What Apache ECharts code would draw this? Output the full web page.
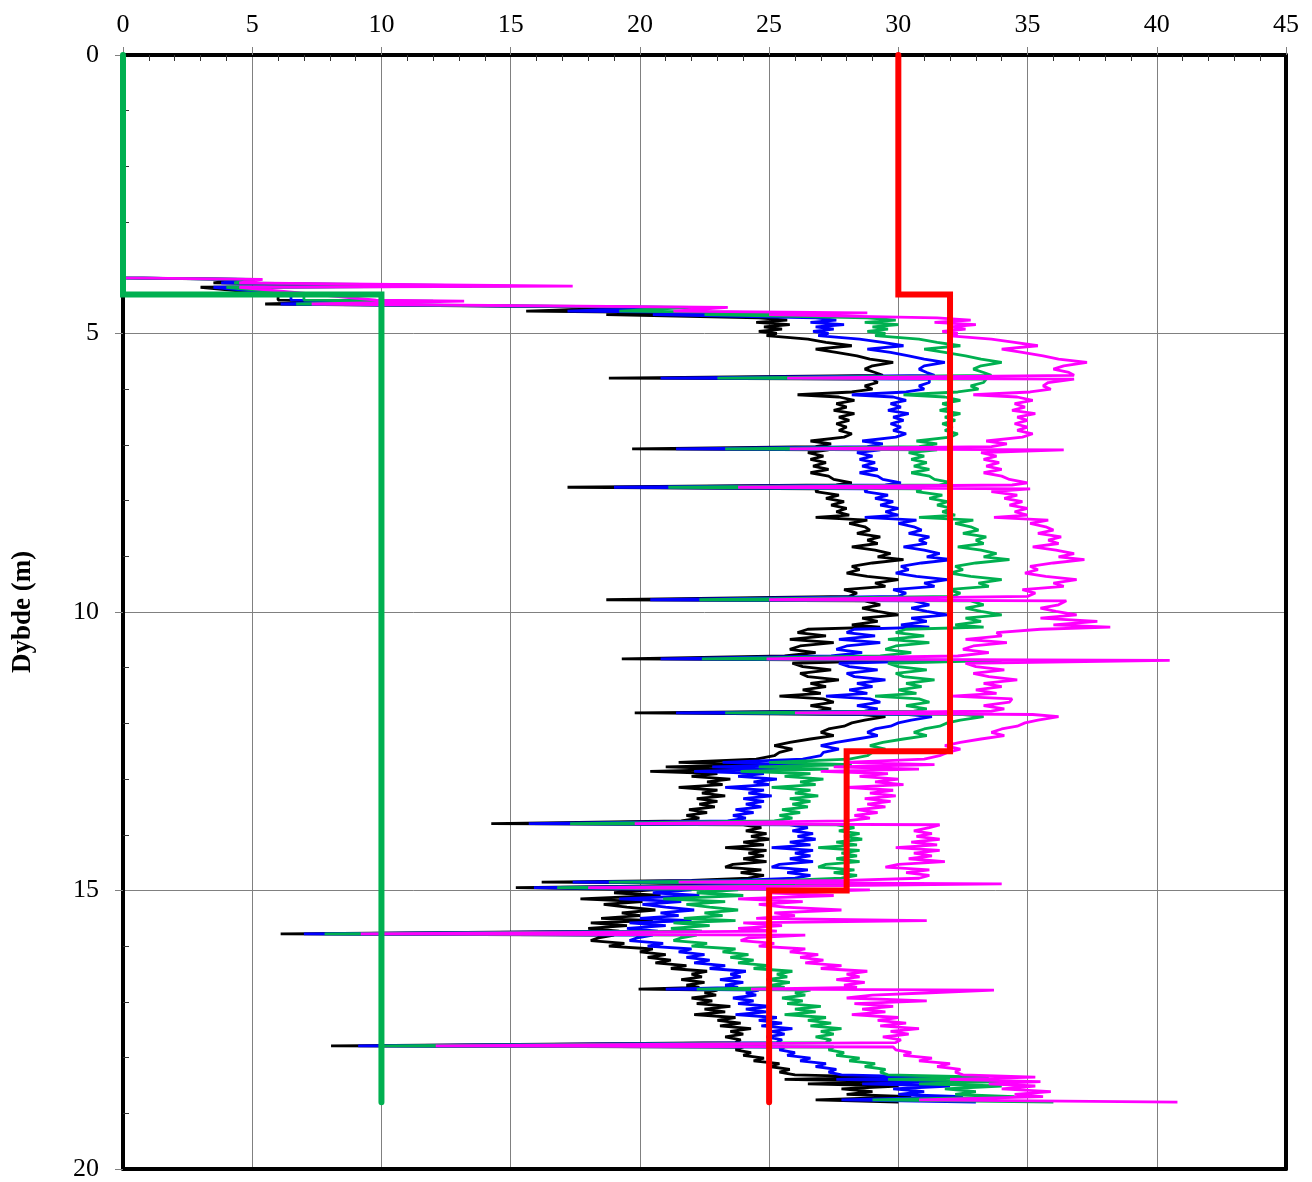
<!DOCTYPE html>
<html><head><meta charset="utf-8">
<script src="https://cdn.jsdelivr.net/npm/echarts@6/dist/echarts.min.js"></script>
<style>html,body{margin:0;padding:0;background:#fff}#c{width:1312px;height:1182px}</style>
</head><body><div id="c"></div>
<script>
// Depth (m) shared by the four measured profiles
const DEPTH = [
0, 4.0, 4.03, 4.09, 4.15, 4.17, 4.3, 4.4, 4.42, 4.47,
4.53, 4.6, 4.63, 4.66, 4.72, 4.76, 4.8, 4.84, 4.88, 4.92,
4.96, 5.0, 5.04, 5.1, 5.16, 5.22, 5.28, 5.34, 5.4, 5.46,
5.52, 5.58, 5.64, 5.7, 5.75, 5.8, 5.82, 5.88, 5.94, 6.0,
6.05, 6.1, 6.14, 6.2, 6.26, 6.32, 6.38, 6.44, 6.5, 6.56,
6.62, 6.68, 6.74, 6.8, 6.86, 6.93, 6.98, 7.03, 7.07, 7.09,
7.14, 7.2, 7.26, 7.32, 7.38, 7.44, 7.5, 7.56, 7.62, 7.68,
7.72, 7.76, 7.79, 7.84, 7.9, 7.96, 8.02, 8.08, 8.14, 8.2,
8.26, 8.3, 8.35, 8.41, 8.47, 8.53, 8.59, 8.65, 8.71, 8.77,
8.83, 8.89, 8.95, 9.01, 9.06, 9.12, 9.18, 9.24, 9.3, 9.36,
9.42, 9.48, 9.54, 9.6, 9.66, 9.72, 9.78, 9.8, 9.87, 9.93,
9.99, 10.05, 10.11, 10.17, 10.23, 10.27, 10.31, 10.37, 10.43, 10.49,
10.55, 10.61, 10.67, 10.73, 10.79, 10.84, 10.87, 10.92, 10.98, 11.04,
11.1, 11.16, 11.22, 11.28, 11.34, 11.4, 11.46, 11.51, 11.56, 11.62,
11.68, 11.74, 11.78, 11.81, 11.84, 11.88, 11.94, 11.99, 12.05, 12.1,
12.16, 12.22, 12.28, 12.34, 12.4, 12.46, 12.52, 12.58, 12.64, 12.7,
12.74, 12.78, 12.82, 12.86, 12.9, 12.95, 13.0, 13.05, 13.1, 13.15,
13.2, 13.25, 13.3, 13.35, 13.4, 13.45, 13.5, 13.55, 13.6, 13.65,
13.7, 13.75, 13.8, 13.82, 13.87, 13.93, 13.98, 14.03, 14.08, 14.13,
14.18, 14.23, 14.28, 14.33, 14.38, 14.43, 14.48, 14.53, 14.58, 14.63,
14.68, 14.73, 14.78, 14.82, 14.85, 14.88, 14.92, 14.95, 14.99, 15.04,
15.09, 15.15, 15.2, 15.25, 15.3, 15.35, 15.4, 15.45, 15.5, 15.54,
15.58, 15.63, 15.68, 15.73, 15.78, 15.8, 15.85, 15.9, 15.95, 16.0,
16.05, 16.1, 16.15, 16.2, 16.25, 16.3, 16.35, 16.4, 16.45, 16.5,
16.55, 16.6, 16.65, 16.7, 16.74, 16.77, 16.79, 16.84, 16.88, 16.93,
16.98, 17.03, 17.08, 17.13, 17.18, 17.23, 17.28, 17.33, 17.38, 17.43,
17.48, 17.53, 17.58, 17.63, 17.68, 17.73, 17.79, 17.81, 17.86, 17.91,
17.96, 18.01, 18.06, 18.11, 18.16, 18.21, 18.26, 18.31, 18.35, 18.39,
18.43, 18.47, 18.51, 18.56, 18.61, 18.66, 18.7, 18.76, 18.8
];
const BLACK = [
0, 0, 4.5, 3.5, 12.0, 3.0, 6.0, 6.0, 9.5, 5.5,
20.0, 15.6, 22.0, 18.7, 24.6, 25.7, 24.5, 25.8, 24.8, 25.5,
24.6, 25.3, 24.9, 26.5, 27.2, 28.2, 26.8, 27.6, 28.4, 28.9,
29.8, 29.0, 28.7, 29.1, 29.4, 18.8, 29.0, 29.2, 28.7, 29.0,
28.2, 26.1, 27.7, 28.3, 27.6, 28.0, 27.5, 28.3, 27.7, 28.1,
27.6, 28.0, 27.7, 28.2, 27.9, 26.6, 27.4, 26.8, 19.7, 27.3,
26.5, 27.1, 26.6, 27.2, 26.7, 27.3, 26.6, 27.3, 27.5, 28.2,
27.6, 17.2, 26.9, 26.8, 27.7, 27.2, 27.9, 27.4, 28.0, 27.6,
28.1, 26.8, 28.8, 28.1, 28.7, 28.9, 28.4, 29.3, 28.8, 29.2,
28.2, 29.1, 29.7, 29.2, 30.2, 29.0, 28.2, 28.5, 28.0, 28.8,
30.0, 29.1, 29.5, 27.9, 28.4, 28.1, 18.7, 28.7, 29.3, 28.6,
29.2, 30.0, 28.6, 29.2, 28.2, 29.3, 26.5, 26.1, 27.2, 25.8,
27.5, 26.2, 25.8, 26.8, 25.6, 19.3, 30.0, 25.9, 26.3, 27.4,
26.2, 26.5, 27.7, 26.6, 27.2, 26.3, 27.0, 25.4, 27.1, 27.5,
26.6, 27.4, 26.9, 19.8, 28.6, 29.5, 28.7, 28.2, 27.9, 27.3,
27.0, 27.5, 26.6, 25.8, 25.2, 25.9, 25.4, 25.2, 24.5, 21.5,
24.6, 21.0, 23.8, 20.4, 23.0, 22.0, 23.5, 22.6, 23.2, 21.5,
23.0, 22.4, 23.3, 22.2, 23.0, 22.3, 22.9, 21.9, 22.6, 21.8,
22.3, 21.6, 14.25, 24.0, 24.7, 24.1, 24.9, 24.3, 25.0, 24.0,
24.8, 23.3, 24.9, 24.2, 24.8, 24.0, 24.9, 23.6, 23.3, 24.7,
23.9, 24.8, 24.2, 22.0, 16.2, 27.0, 20.0, 15.2, 20.5, 19.0,
20.8, 17.7, 20.1, 18.6, 19.5, 20.6, 19.3, 20.0, 18.5, 20.5,
18.1, 19.5, 18.0, 19.2, 6.1, 19.0, 18.4, 18.1, 19.4, 18.8,
20.5, 20.0, 21.0, 20.3, 21.2, 20.6, 21.8, 21.2, 22.6, 22.0,
22.4, 21.6, 22.5, 21.8, 22.3, 19.95, 23.0, 22.5, 22.95, 22.0,
22.8, 22.2, 23.5, 22.5, 23.3, 22.1, 23.7, 23.0, 23.9, 23.1,
24.3, 23.5, 24.0, 23.3, 23.9, 23.7, 8.05, 24.0, 23.7, 24.3,
24.0, 24.8, 24.4, 25.4, 25.0, 25.8, 25.4, 26.0, 29.5, 25.6,
30.0, 26.5, 30.0, 27.8, 29.0, 28.0, 30.5, 26.8, 30.0
];
const BLUE = [
0, 0, 4.8, 3.8, 13.5, 3.5, 6.5, 6.5, 10.8, 6.1,
21.0, 17.2, 24.0, 20.5, 26.8, 27.6, 26.6, 27.9, 26.8, 27.5,
26.7, 27.3, 26.9, 28.5, 29.4, 30.2, 28.8, 29.7, 30.4, 31.0,
31.8, 31.0, 30.8, 31.1, 31.4, 20.8, 31.2, 31.2, 30.8, 31.0,
30.3, 28.2, 29.8, 30.3, 29.7, 30.1, 29.6, 30.4, 29.8, 30.2,
29.7, 30.1, 29.8, 30.3, 29.9, 28.6, 29.4, 28.8, 21.4, 29.3,
28.4, 29.0, 28.5, 29.1, 28.6, 29.2, 28.5, 29.2, 29.4, 30.1,
29.5, 19.0, 28.8, 28.7, 29.6, 29.1, 29.8, 29.3, 30.0, 29.5,
30.0, 28.7, 30.7, 30.0, 30.6, 30.9, 30.4, 31.2, 30.8, 31.1,
30.2, 31.0, 31.6, 31.1, 32.1, 30.9, 30.1, 30.4, 29.9, 30.7,
31.9, 31.0, 31.4, 29.8, 30.3, 30.0, 20.4, 30.6, 31.2, 30.5,
31.1, 31.9, 30.5, 31.1, 30.1, 31.2, 28.3, 28.0, 29.1, 27.7,
29.3, 28.0, 27.6, 28.6, 27.4, 20.8, 32.0, 27.7, 28.1, 29.2,
28.0, 28.3, 29.5, 28.4, 29.0, 28.1, 28.8, 27.2, 28.9, 29.3,
28.4, 29.2, 28.7, 21.4, 30.4, 31.3, 30.5, 30.0, 29.7, 29.1,
28.8, 29.2, 28.4, 27.6, 27.0, 27.7, 27.1, 27.0, 26.3, 23.2,
26.4, 22.8, 25.5, 22.1, 24.8, 23.8, 25.3, 24.4, 25.0, 23.3,
24.8, 24.2, 25.1, 24.0, 24.8, 24.1, 24.7, 23.7, 24.4, 23.6,
24.1, 23.4, 15.7, 25.8, 26.5, 25.9, 26.7, 26.1, 26.8, 25.8,
26.6, 25.1, 26.7, 26.0, 26.6, 25.8, 26.7, 25.4, 25.1, 26.5,
25.7, 26.6, 26.0, 23.8, 17.4, 29.0, 21.5, 15.9, 22.0, 20.5,
22.3, 19.2, 21.6, 20.1, 21.0, 22.1, 20.8, 21.5, 20.0, 22.0,
19.6, 21.0, 19.5, 20.7, 7.0, 20.5, 19.9, 19.6, 20.9, 20.3,
22.0, 21.5, 22.5, 21.8, 22.7, 22.1, 23.3, 22.7, 24.1, 23.5,
23.9, 23.1, 24.0, 23.3, 23.8, 21.0, 24.6, 24.1, 24.5, 23.6,
24.4, 23.8, 25.1, 24.1, 24.9, 23.7, 25.3, 24.6, 25.5, 24.7,
25.9, 25.1, 25.6, 24.9, 25.5, 25.3, 9.1, 25.6, 25.4, 26.0,
25.7, 26.6, 26.2, 27.2, 26.8, 27.6, 27.3, 27.8, 31.5, 27.6,
32.0, 28.6, 32.0, 29.8, 31.0, 30.0, 32.5, 27.8, 33.0
];
const GREEN = [
0, 0, 5.1, 4.3, 15.0, 4.0, 7.0, 7.0, 12.0, 6.7,
22.0, 19.2, 26.0, 22.5, 28.8, 29.9, 28.7, 30.0, 29.0, 29.6,
28.8, 29.5, 29.1, 30.8, 31.5, 32.4, 31.0, 31.8, 32.6, 33.2,
34.0, 33.2, 32.9, 33.3, 33.6, 23.0, 33.4, 33.3, 32.8, 33.1,
32.3, 30.2, 31.8, 32.4, 31.7, 32.1, 31.6, 32.4, 31.8, 32.2,
31.7, 32.1, 31.8, 32.3, 32.0, 30.7, 31.5, 30.8, 23.3, 31.5,
30.4, 31.0, 30.5, 31.1, 30.6, 31.2, 30.5, 31.2, 31.4, 32.1,
31.6, 21.1, 30.9, 30.7, 31.7, 31.2, 31.9, 31.5, 32.1, 31.7,
32.2, 30.8, 32.9, 32.2, 32.8, 33.1, 32.5, 33.4, 33.0, 33.3,
32.3, 33.2, 33.8, 33.3, 34.3, 33.0, 32.2, 32.5, 32.0, 32.8,
34.0, 33.1, 33.5, 31.9, 32.4, 32.1, 22.3, 32.8, 33.3, 32.6,
33.2, 34.0, 32.6, 33.2, 32.2, 33.3, 30.3, 29.9, 31.0, 29.6,
31.2, 29.9, 29.5, 30.5, 29.3, 22.4, 34.0, 29.6, 30.0, 31.1,
29.9, 30.2, 31.4, 30.3, 30.9, 30.0, 30.7, 29.1, 30.8, 31.2,
30.3, 31.1, 30.6, 23.3, 32.5, 33.3, 32.4, 31.9, 31.6, 31.0,
30.6, 31.1, 30.2, 29.4, 28.9, 29.5, 29.0, 28.8, 28.1, 25.0,
28.2, 24.6, 27.3, 23.9, 26.6, 25.6, 27.1, 26.2, 26.8, 25.1,
26.6, 26.0, 26.9, 25.8, 26.6, 25.9, 26.5, 25.5, 26.2, 25.4,
25.9, 25.2, 17.3, 27.6, 28.3, 27.7, 28.5, 27.9, 28.6, 27.6,
28.4, 26.9, 28.5, 27.8, 28.4, 27.6, 28.5, 27.2, 26.9, 28.3,
27.5, 28.4, 27.8, 25.6, 18.8, 31.0, 23.0, 16.8, 23.8, 22.2,
24.0, 20.9, 23.3, 21.8, 22.7, 23.8, 22.5, 23.2, 21.7, 23.7,
21.3, 22.7, 21.2, 22.4, 7.8, 22.2, 21.6, 21.3, 22.6, 22.0,
23.7, 23.2, 24.2, 23.5, 24.4, 23.8, 25.0, 24.4, 25.9, 25.3,
25.7, 24.9, 25.8, 25.1, 25.6, 22.2, 26.6, 26.0, 26.4, 25.5,
26.3, 25.7, 27.0, 26.0, 26.8, 25.6, 27.2, 26.5, 27.4, 26.6,
27.8, 27.0, 27.5, 26.8, 27.4, 27.2, 9.9, 27.5, 27.3, 27.9,
27.6, 28.5, 28.1, 29.1, 28.7, 29.5, 29.3, 29.6, 33.5, 29.6,
34.0, 30.8, 34.0, 31.8, 33.0, 32.2, 34.5, 29.0, 36.0
];
const MAGENTA = [
0, 0, 5.4, 4.5, 17.4, 4.5, 7.5, 9.8, 13.2, 7.3,
23.4, 21.3, 28.8, 25.0, 31.5, 32.8, 31.4, 33.0, 32.0, 32.6,
31.7, 32.3, 31.9, 33.6, 34.5, 35.4, 34.0, 34.8, 35.6, 36.2,
37.3, 36.4, 36.0, 36.6, 36.8, 25.7, 36.8, 35.8, 35.6, 35.9,
35.1, 32.9, 34.6, 35.2, 34.5, 34.9, 34.4, 35.3, 34.6, 35.0,
34.5, 35.0, 34.6, 35.2, 34.8, 33.4, 34.2, 33.6, 25.8, 36.4,
33.2, 33.8, 33.3, 33.9, 33.4, 34.0, 33.3, 34.0, 34.3, 35.0,
34.4, 23.8, 35.1, 33.6, 34.6, 34.1, 34.8, 34.3, 35.0, 34.5,
35.0, 33.7, 35.8, 35.1, 35.7, 36.0, 35.4, 36.3, 35.8, 36.2,
35.2, 36.1, 36.8, 36.2, 37.2, 36.0, 35.1, 35.4, 34.9, 35.7,
36.9, 36.0, 36.4, 34.8, 35.3, 35.0, 25.0, 36.5, 36.2, 35.5,
36.1, 36.9, 35.5, 37.7, 36.0, 38.2, 35.5, 33.8, 34.0, 32.6,
34.2, 32.9, 32.5, 33.5, 32.3, 24.9, 40.5, 32.6, 33.0, 34.1,
32.9, 33.5, 34.6, 33.3, 34.0, 33.0, 33.8, 32.1, 34.4, 34.3,
33.3, 34.1, 33.6, 26.0, 35.2, 36.2, 35.4, 34.9, 34.6, 34.0,
33.6, 34.1, 33.2, 32.4, 31.8, 32.4, 31.9, 31.6, 31.0, 27.9,
31.4, 27.5, 30.8, 27.0, 29.6, 28.5, 30.0, 29.1, 30.2, 28.0,
29.8, 28.9, 29.9, 28.7, 29.7, 28.8, 29.5, 28.4, 29.2, 28.3,
28.9, 28.0, 19.8, 31.6, 31.2, 30.6, 31.3, 30.7, 31.6, 30.5,
31.5, 29.9, 31.6, 30.6, 31.3, 30.4, 31.8, 30.0, 29.5, 31.2,
30.3, 31.2, 30.8, 28.0, 21.5, 34.0, 26.0, 18.0, 28.9, 25.0,
27.5, 23.8, 26.3, 24.6, 25.6, 27.8, 25.2, 26.0, 24.5, 31.1,
24.0, 25.5, 23.8, 25.3, 9.2, 26.4, 24.2, 23.9, 25.2, 24.6,
26.4, 25.8, 26.9, 26.2, 27.1, 26.4, 27.8, 27.0, 28.8, 28.0,
28.5, 27.6, 28.7, 27.9, 28.4, 24.3, 33.7, 31.0, 29.0, 28.0,
31.1, 28.3, 29.8, 28.6, 29.5, 28.2, 30.0, 29.2, 30.3, 29.3,
30.8, 29.7, 30.4, 29.4, 30.1, 29.9, 12.1, 29.8, 29.9, 30.5,
30.2, 31.3, 30.8, 32.0, 31.5, 32.4, 32.2, 32.5, 35.3, 32.0,
35.5, 33.5, 35.3, 34.0, 35.9, 34.5, 35.6, 30.8, 40.8
];
// Step profiles
const RED_STEP_X = [30, 30, 32, 32, 28, 28, 25, 25];
const RED_STEP_D = [0, 4.3, 4.3, 12.5, 12.5, 15, 15, 18.8];
const GREEN_STEP_X = [0, 0, 10, 10];
const GREEN_STEP_D = [0, 4.3, 4.3, 18.8];

function pairs(xs, ds) { return xs.map((x, i) => [x, ds[i]]); }

const FONT = '"Liberation Serif", "Times New Roman", serif';
const chart = echarts.init(document.getElementById('c'), null, { renderer: 'canvas' });

function noisy(name, xs, color) {
  return { type: 'line', name, data: pairs(xs, DEPTH), xAxisIndex: 0, yAxisIndex: 0,
    showSymbol: false, symbol: 'none', silent: true, animation: false,
    lineStyle: { color, width: 2.8 }, itemStyle: { color } };
}
function step(name, xs, ds, color) {
  return { type: 'line', name, data: pairs(xs, ds), xAxisIndex: 0, yAxisIndex: 0,
    showSymbol: false, symbol: 'none', silent: true, animation: false,
    lineStyle: { color, width: 6, cap: 'round', join: 'miter' }, itemStyle: { color } };
}

const option = {
  animation: false,
  backgroundColor: '#fff',
  grid: { left: 123, top: 55, right: 26, bottom: 9, containLabel: false },
  xAxis: [
    { type: 'value', position: 'top', min: 0, max: 45, interval: 5,
      axisLine: { onZero: false, lineStyle: { color: '#000', width: 4 } },
      axisTick: { length: 8, lineStyle: { color: '#808080' } },
      axisLabel: { fontFamily: FONT, fontSize: 26, color: '#000', margin: 17 },
      splitLine: { lineStyle: { color: '#808080', width: 1 } } },
    { type: 'value', position: 'top', min: 0, max: 45, interval: 5,
      axisLine: { show: false }, axisTick: { show: false, inside: true },
      minorTick: { show: true, splitNumber: 5, length: 6, lineStyle: { color: '#333' } },
      axisLabel: { show: false }, splitLine: { show: false } },
    { type: 'value', position: 'bottom', min: 0, max: 45, interval: 5,
      axisLine: { onZero: false, lineStyle: { color: '#000', width: 4 } },
      axisTick: { show: false }, axisLabel: { show: false }, splitLine: { show: false } }
  ],
  yAxis: [
    { type: 'value', position: 'left', inverse: true, min: 0, max: 20, interval: 5,
      name: 'Dybde (m)', nameLocation: 'middle', nameGap: 86,
      nameTextStyle: { fontFamily: FONT, fontSize: 27, fontWeight: 'bold', color: '#000' },
      axisLine: { onZero: false, lineStyle: { color: '#000', width: 4 } },
      axisTick: { length: 8, lineStyle: { color: '#808080' } },
      axisLabel: { fontFamily: FONT, fontSize: 26, color: '#000', margin: 24 },
      splitLine: { lineStyle: { color: '#808080', width: 1 } } },
    { type: 'value', position: 'left', inverse: true, min: 0, max: 20, interval: 5,
      axisLine: { show: false }, axisTick: { show: false, inside: true },
      minorTick: { show: true, splitNumber: 5, length: 6, lineStyle: { color: '#333' } },
      axisLabel: { show: false }, splitLine: { show: false } },
    { type: 'value', position: 'right', inverse: true, min: 0, max: 20, interval: 5,
      axisLine: { onZero: false, lineStyle: { color: '#000', width: 4 } },
      axisTick: { show: false }, axisLabel: { show: false }, splitLine: { show: false } }
  ],
  series: [
    noisy('black', BLACK, '#000000'),
    noisy('blue', BLUE, '#0000ff'),
    noisy('green', GREEN, '#00b050'),
    noisy('magenta', MAGENTA, '#ff00ff'),
    step('greenStep', GREEN_STEP_X, GREEN_STEP_D, '#00b050'),
    step('redStep', RED_STEP_X, RED_STEP_D, '#ff0000')
  ]
};
chart.setOption(option);
</script>
</body></html>
